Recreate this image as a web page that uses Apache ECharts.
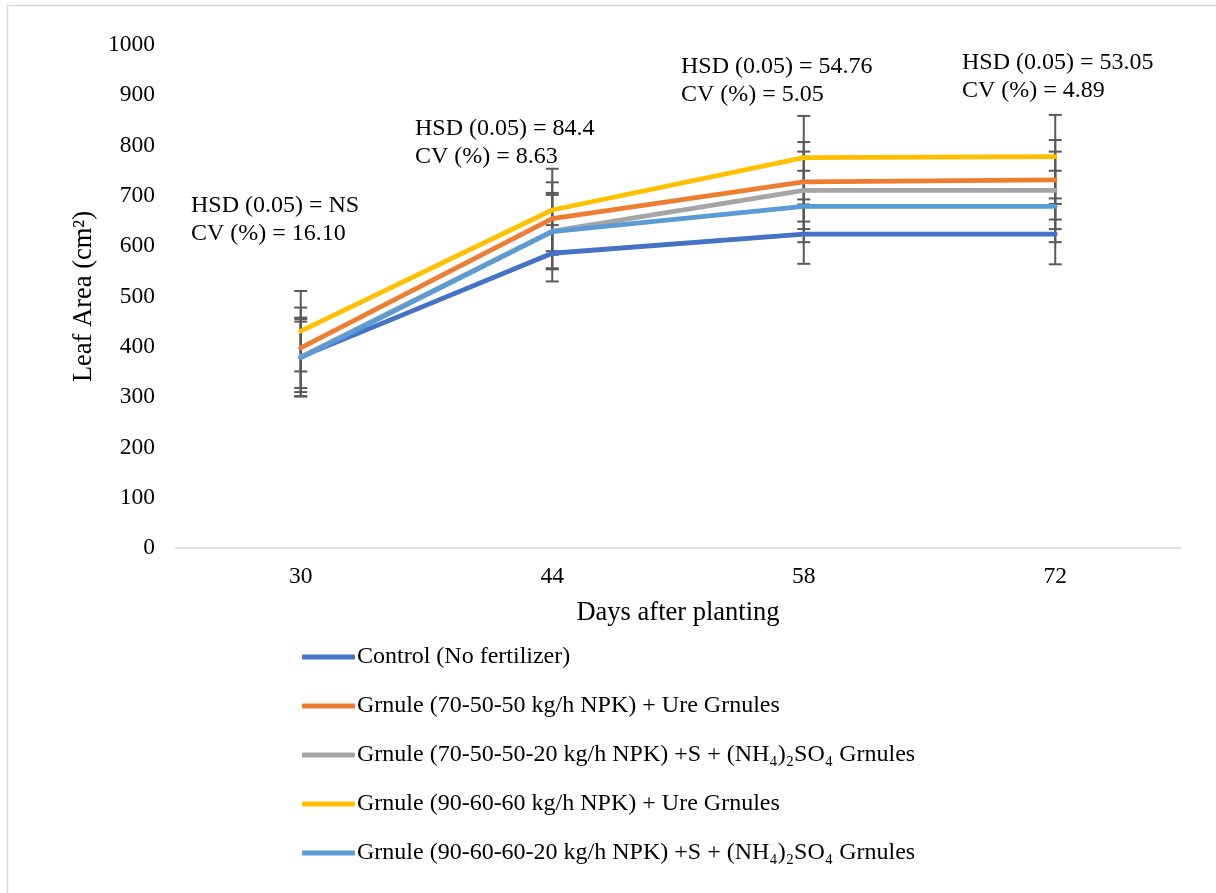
<!DOCTYPE html>
<html>
<head>
<meta charset="utf-8">
<script src="https://cdn.jsdelivr.net/npm/echarts@6/dist/echarts.min.js"></script>
<style>html,body{margin:0;padding:0;background:#fff}#c{width:1216px;height:893px}</style>
</head>
<body>
<div id="c"></div>
<script>
const categories = ['30', '44', '58', '72'];
const seriesNames = [
  'Control (No fertilizer)',
  'Grnule (70-50-50 kg/h NPK) + Ure Grnules',
  'Grnule (70-50-50-20 kg/h NPK) +S + (NH₄)₂SO₄ Grnules',
  'Grnule (90-60-60 kg/h NPK) + Ure Grnules',
  'Grnule (90-60-60-20 kg/h NPK) +S + (NH₄)₂SO₄ Grnules'
];
const control = [380, 586, 624, 624];
const npk70Urea = [398, 655, 728, 732];
const npk70S = [380, 630, 711, 711];
const npk90Urea = [431, 672, 776, 778];
const npk90S = [378, 629, 679, 679];
const errControl = [70, 56, 59, 60];
const errNpk70Urea = [80, 72, 79, 79];
const errNpk70S = [78, 76, 77, 77];
const errNpk90Urea = [80, 82, 83, 83];
const errNpk90S = [77, 73, 71, 71];
const yTicks = { min: 0, max: 1000, interval: 100 };
const annotations = [
  ['HSD (0.05) = NS', 'CV (%) = 16.10'],
  ['HSD (0.05) = 84.4', 'CV (%) = 8.63'],
  ['HSD (0.05) = 54.76', 'CV (%) = 5.05'],
  ['HSD (0.05) = 53.05', 'CV (%) = 4.89']
];

const colors = ['#4472C4', '#ED7D31', '#A5A5A5', '#FFC000', '#5B9BD5'];
const values = [control, npk70Urea, npk70S, npk90Urea, npk90S];
const errs = [errControl, errNpk70Urea, errNpk70S, errNpk90Urea, errNpk90S];
const FONT = '"Liberation Serif", "Times New Roman", serif';

const chart = echarts.init(document.getElementById('c'), null, { renderer: 'canvas' });

const errData = [];
values.forEach((vals, s) => vals.forEach((v, i) => errData.push([i, v - errs[s][i], v + errs[s][i]])));

const lineSeries = values.map((vals, s) => ({
  name: seriesNames[s],
  type: 'line',
  data: vals,
  symbol: 'none',
  showSymbol: false,
  lineStyle: { color: colors[s], width: 4.8, cap: 'round', join: 'round' },
  itemStyle: { color: colors[s] },
  z: 3 + s
}));

const errSeries = {
  type: 'custom',
  name: 'err',
  z: 2,
  silent: true,
  data: errData,
  renderItem: function (params, api) {
    const x = api.value(0);
    const lo = api.coord([x, api.value(1)]);
    const hi = api.coord([x, api.value(2)]);
    const w = 6.5;
    const style = { stroke: '#595959', lineWidth: 2, fill: null };
    return {
      type: 'group',
      children: [
        { type: 'line', shape: { x1: lo[0], y1: lo[1], x2: hi[0], y2: hi[1] }, style },
        { type: 'line', shape: { x1: lo[0] - w, y1: lo[1], x2: lo[0] + w, y2: lo[1] }, style },
        { type: 'line', shape: { x1: hi[0] - w, y1: hi[1], x2: hi[0] + w, y2: hi[1] }, style }
      ]
    };
  }
};

const annoPos = [[191, 192], [415, 115], [681, 53], [962, 49]];
const graphics = [{
  type: 'rect', shape: { x: 7.5, y: 5.5, width: 1240, height: 920 },
  style: { fill: null, stroke: '#D9D9D9', lineWidth: 1.5 }, silent: true
}];
annotations.forEach((a, i) => {
  graphics.push({
    type: 'text', left: annoPos[i][0], top: annoPos[i][1],
    style: { text: a.join('\n'), font: '24px ' + FONT, fill: '#000', lineHeight: 28 }
  });
});

chart.setOption({
  animation: false,
  backgroundColor: '#fff',
  grid: { left: 175, right: 35, top: 45, bottom: 345, containLabel: false },
  xAxis: {
    type: 'category',
    data: categories,
    boundaryGap: true,
    axisLine: { show: true, lineStyle: { color: '#D9D9D9', width: 1.5 } },
    axisTick: { show: false },
    axisLabel: { color: '#000', fontFamily: FONT, fontSize: 23.5, margin: 17 },
    name: 'Days after planting',
    nameLocation: 'middle',
    nameGap: 52,
    nameTextStyle: { color: '#000', fontFamily: FONT, fontSize: 26.5 }
  },
  yAxis: {
    type: 'value',
    min: yTicks.min, max: yTicks.max, interval: yTicks.interval,
    splitLine: { show: false },
    axisLine: { show: false },
    axisTick: { show: false },
    axisLabel: { color: '#000', fontFamily: FONT, fontSize: 23.5, margin: 20, formatter: v => String(v) },
    name: 'Leaf Area (cm²)',
    nameLocation: 'middle',
    nameGap: 74,
    nameRotate: 90,
    nameTextStyle: { color: '#000', fontFamily: FONT, fontSize: 26.5 }
  },
  legend: {
    orient: 'vertical',
    left: 297,
    top: 640,
    itemWidth: 53,
    itemHeight: 5,
    itemGap: 25,
    icon: 'roundRect',
    data: seriesNames,
    textStyle: { color: '#000', fontFamily: FONT, fontSize: 24, padding: [0, 0, 0, -3] }
  },
  graphic: graphics,
  series: [errSeries].concat(lineSeries)
});
</script>
</body>
</html>
